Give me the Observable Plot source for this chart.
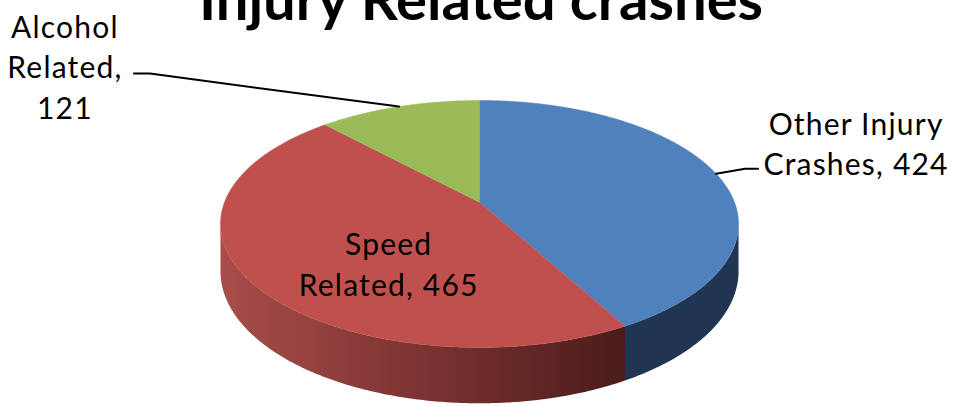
<!DOCTYPE html>
<html>
<head>
<meta charset="utf-8">
<script src="https://cdn.jsdelivr.net/npm/d3@7"></script>
<script src="https://cdn.jsdelivr.net/npm/@observablehq/plot@0.6"></script>
<style>
  html, body { margin: 0; padding: 0; background: #ffffff; }
  #chart { width: 955px; height: 406px; overflow: hidden; }
</style>
</head>
<body>
<div id="chart"></div>
<script>
// ---- data ----
const titleText = "Injury Related crashes";
const categories = ["Other Injury Crashes", "Speed Related", "Alcohol Related"];
const values = [424, 465, 121];
const labelLines = [["Other Injury", "Crashes, 424"], ["Speed", "Related, 465"], ["Alcohol", "Related,", "121"]];
const sliceColors = ["#4f81bd", "#c0504d", "#9bbb59"];
const sideColors = ["#1f3552", "url(#speedSide)", "#5e7234"];

// ---- layout / projection ----
const W = 955, H = 406;
const CX = 479, CY = 201.8;      // pixel position of pie centre
const A = 255, B = 119.7;        // pixels per unit horizontally / vertically
const K = 0.1755;                // perspective strength
const THICK = 46 / B;            // pie thickness in y units

function project(theta, r, drop) {
  const u = r * Math.sin(theta), v = r * Math.cos(theta);
  const s = 1 / (1 + K * v);
  return {x: u * s, y: v * s - drop * s};
}
function offset(p, dx, dy) { return {x: p.x + dx / A, y: p.y - dy / B}; }

const arcs = d3.pie().sort(null).value(d => d)(values);
const step = Math.PI / 360;
function arcSamples(a0, a1, drop) {
  const n = Math.max(2, Math.ceil((a1 - a0) / step));
  return d3.range(n + 1).map(i => project(a0 + (a1 - a0) * i / n, 1, drop));
}

// silhouette angles (where the outer wall faces the viewer)
const thL = Math.acos(-K), thR = 2 * Math.PI - Math.acos(-K);

const sideMarks = [], topMarks = [];
arcs.forEach((a, i) => {
  const s0 = Math.max(a.startAngle, thL), s1 = Math.min(a.endAngle, thR);
  if (s1 > s0) {
    const topArc = arcSamples(s0, s1, 0);
    const botArc = arcSamples(s0, s1, THICK).reverse();
    const poly = topArc.concat(botArc);
    sideMarks.push(Plot.line(poly, {x: "x", y: "y", fill: sideColors[i], stroke: "none"}));
  }
  const top = [project(0, 0, 0)].concat(arcSamples(a.startAngle, a.endAngle, 0));
  topMarks.push(Plot.line(top, {x: "x", y: "y", fill: sliceColors[i], stroke: sliceColors[i], strokeWidth: 0.5}));
});

// label anchors
const mid = a => (a.startAngle + a.endAngle) / 2;
const rimOther = project(mid(arcs[0]), 1, 0);
const innerSpeed = project(mid(arcs[1]), 0.5, 0);
const rimAlcohol = project(mid(arcs[2]), 1, 0);

const labelLayout = [
  {anchor: rimOther, dx: 140, dy0: -39},
  {anchor: innerSpeed, dx: 18, dy0: 16},
  {anchor: rimAlcohol, dx: -334, dy0: -69}
];
const LINE = 40.5;
const labelRows = [];
labelLines.forEach((lines, i) => {
  const L = labelLayout[i];
  lines.forEach((t, j) => {
    const p = offset(L.anchor, L.dx, L.dy0 + j * LINE);
    labelRows.push({x: p.x, y: p.y, text: t});
  });
});

const leaders = [
  [rimAlcohol, offset(rimAlcohol, -249, -33), offset(rimAlcohol, -265, -33)],
  [rimOther, offset(rimOther, 29, -5), offset(rimOther, 42, -5)]
];

const svg = Plot.plot({
  width: W, height: H,
  margin: 0,
  x: {domain: [-CX / A, (W - CX) / A], range: [0, W], axis: null},
  y: {domain: [-(H - CY) / B, CY / B], range: [H, 0], axis: null},
  style: {background: "#ffffff", overflow: "hidden"},
  marks: [
    ...sideMarks,
    ...topMarks,
    ...leaders.map(l => Plot.line(l, {x: "x", y: "y", stroke: "#000", strokeWidth: 2})),
    Plot.text(labelRows, {x: "x", y: "y", text: "text", lineAnchor: "bottom", textAnchor: "middle",
      fontSize: 30, fontFamily: "Lato, 'Open Sans', sans-serif", fill: "#000"}),
    Plot.text([titleText], {frameAnchor: "top", dx: 3, dy: 19, lineAnchor: "bottom", text: d => d,
      fontSize: 58, fontWeight: "bold", fontFamily: "Lato, 'Open Sans', sans-serif", fill: "#000"})
  ]
});

// gradient for the speed slice wall
const defs = d3.select(svg).insert("defs", ":first-child");
const grad = defs.append("linearGradient").attr("id", "speedSide").attr("x1", 0).attr("x2", 1).attr("y1", 0).attr("y2", 0);
grad.append("stop").attr("offset", 0).attr("stop-color", "#a84d4b");
grad.append("stop").attr("offset", 0.5).attr("stop-color", "#7c3331");
grad.append("stop").attr("offset", 1).attr("stop-color", "#4a1c1b");
const labelTexts = new Set(labelLines.flat());
d3.select(svg).selectAll("text")
  .filter(function() { return labelTexts.has(this.textContent); })
  .style("letter-spacing", "1.2px");

document.getElementById("chart").appendChild(svg);
</script>
</body>
</html>
